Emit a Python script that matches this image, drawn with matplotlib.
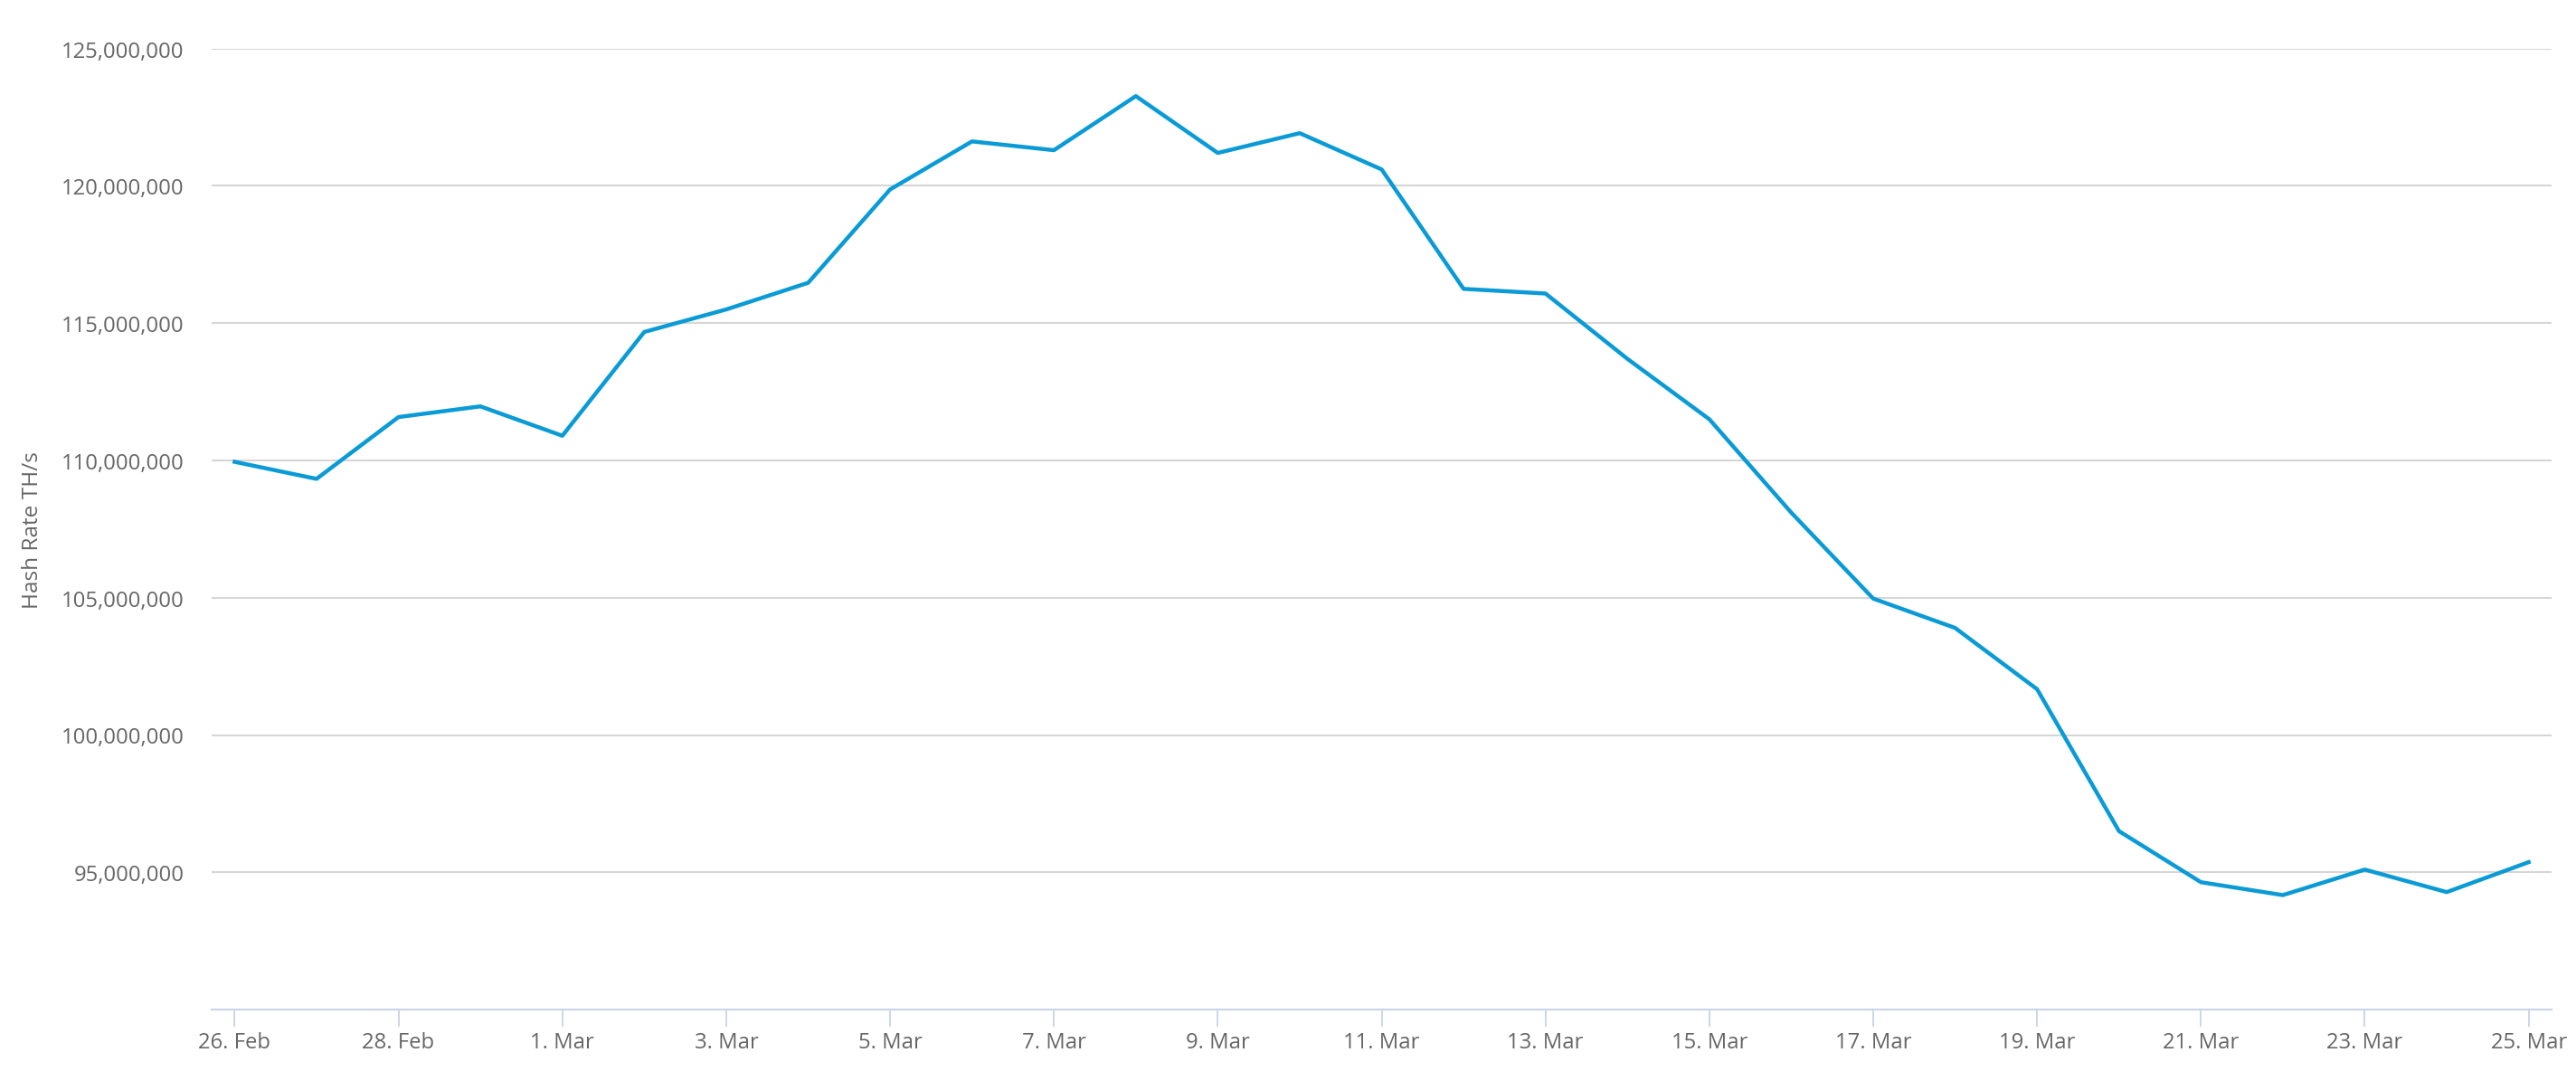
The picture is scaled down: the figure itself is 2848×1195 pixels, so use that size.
import pandas as pd
import matplotlib.pyplot as plt
from matplotlib.ticker import FuncFormatter

# daily hash rate, 26 Feb - 25 Mar 2020
dates = ['2020-02-26', '2020-02-27', '2020-02-28', '2020-02-29',
         '2020-03-01', '2020-03-02', '2020-03-03', '2020-03-04', '2020-03-05',
         '2020-03-06', '2020-03-07', '2020-03-08', '2020-03-09', '2020-03-10',
         '2020-03-11', '2020-03-12', '2020-03-13', '2020-03-14', '2020-03-15',
         '2020-03-16', '2020-03-17', '2020-03-18', '2020-03-19', '2020-03-20',
         '2020-03-21', '2020-03-22', '2020-03-23', '2020-03-24', '2020-03-25']
hash_rate = [109.95, 109.33, 111.58, 111.97, 110.9, 114.68, 115.5, 116.47, 119.87,
             121.62, 121.3, 123.27, 121.2, 121.92, 120.6, 116.25, 116.08, 113.7,
             111.5, 108.1, 104.97, 103.9, 101.67, 96.5, 94.64, 94.17, 95.1,
             94.28, 95.37]  # millions TH/s
y_ticks = [95e6, 100e6, 105e6, 110e6, 115e6, 120e6, 125e6]

x = pd.to_datetime(dates)
y = [v * 1e6 for v in hash_rate]

plt.rcParams['font.family'] = ['Open Sans', 'DejaVu Sans']
text_color = '#666666'

fig = plt.figure(figsize=(14.24, 5.979), dpi=200)
ax = fig.add_axes([0.0822, 0.066, 0.9083, 0.8884])

ax.plot(x, y, color='#0a9bd6', linewidth=1.6, solid_joinstyle='round', zorder=3)

ax.set_ylim(90e6, 125e6)
ax.set_xlim(x[0] - pd.Timedelta(hours=6.7), x[-1] + pd.Timedelta(hours=6.7))

ax.set_yticks(y_ticks)
ax.yaxis.set_major_formatter(FuncFormatter(lambda v, p: f'{v:,.0f}'))
ax.grid(axis='y', color='#d6d6d6', linewidth=0.75)
ax.set_axisbelow(True)

tick_dates = x[::2]
ax.set_xticks(tick_dates)
ax.set_xticklabels([f'{d.day}. {d.strftime("%b")}' for d in tick_dates])

for side in ['top', 'right', 'left']:
    ax.spines[side].set_visible(False)
ax.spines['bottom'].set_color('#ccd6eb')
ax.spines['bottom'].set_linewidth(0.8)

ax.tick_params(axis='y', length=0, pad=11, labelsize=8.6, labelcolor=text_color)
ax.tick_params(axis='x', length=6.7, width=0.7, color='#ccd6eb', pad=2,
               labelsize=8.6, labelcolor=text_color)

ax.set_ylabel('Hash Rate TH/s', color=text_color, fontsize=8.8, labelpad=7)

fig.savefig('out.png', dpi=200)
